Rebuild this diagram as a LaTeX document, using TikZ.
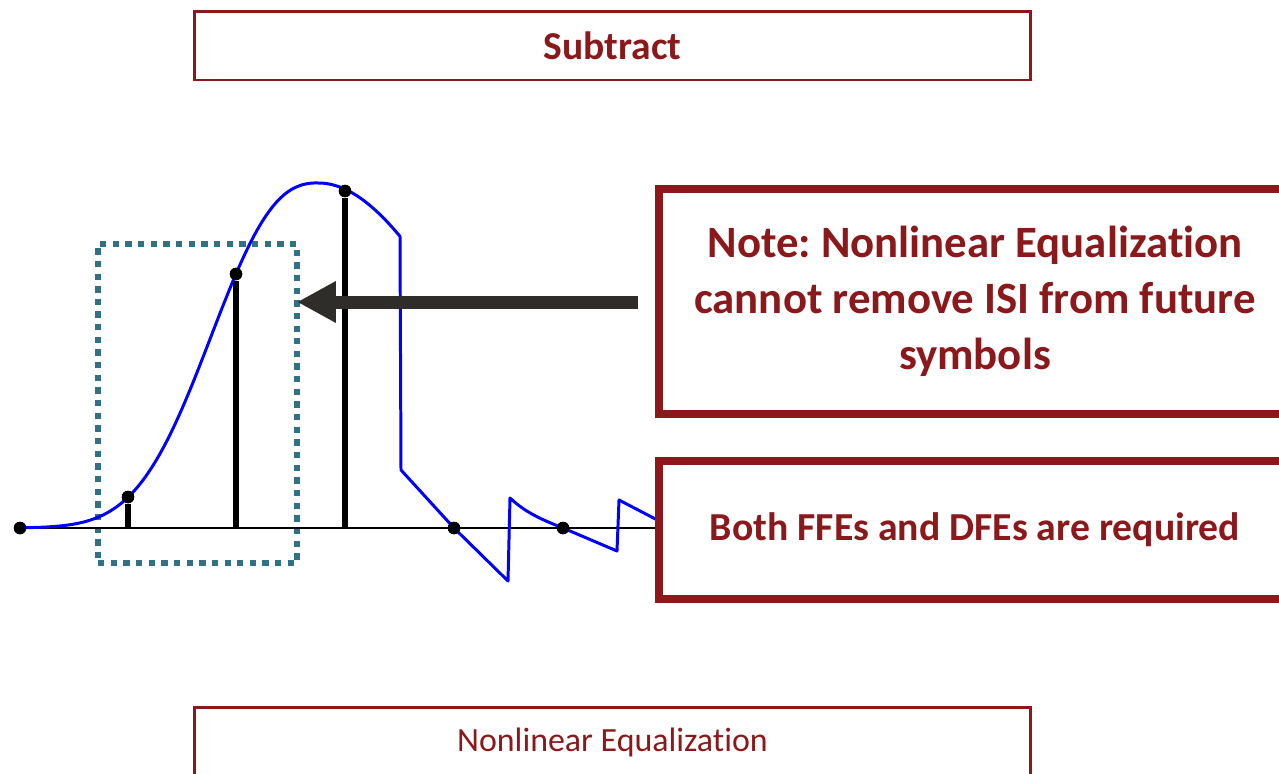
\documentclass[tikz,border=0pt]{standalone}
\usepackage{fontspec}
\setmainfont{Carlito}[Ligatures=NoCommon]
\usepackage{tikz}
\usetikzlibrary{arrows.meta}
\definecolor{boxred}{RGB}{139,24,26}
\definecolor{tealdot}{RGB}{49,112,133}
\definecolor{arrowgray}{RGB}{46,45,41}
\frenchspacing

\begin{document}
\begin{tikzpicture}[x=0.02cm, y=0.02cm, yscale=-1,
  thinbox/.style={draw=boxred, line width=1.7pt, fill=white, text=boxred, minimum width=16.74cm, minimum height=1.38cm},
  notebox/.style={draw=boxred, line width=4.5pt, fill=white, text=boxred, minimum width=12.64cm, align=center, font=\bfseries\fontsize{25.5}{31.75}\selectfont},
  tapbox/.style={draw=tealdot, line width=3.3pt, dash pattern=on 3.6pt off 3.6pt, minimum width=3.98cm, minimum height=6.38cm, outer sep=0pt},
  sample/.style={circle, fill=black, inner sep=0pt, minimum size=0.25cm},
  stem/.style={black, line width=2.9pt},
  pulse/.style={blue, line width=1.7pt, line join=round},
  bigarrow/.style={arrowgray, line width=7.4pt, -{Triangle[length=0.78cm, width=0.78cm]}}]
\useasboundingbox (0,0) rectangle (1279,774);
\node[tapbox] (window) at (197.5,403.5) {};
\node[sample] (p0) at (20,528) {};
\node[sample] (p1) at (128,497) {};
\node[sample] (p2) at (236,274) {};
\node[sample] (p3) at (345,191) {};
\node[sample] (p4) at (454,528) {};
\node[sample] (p5) at (563,528) {};
\coordinate (axisend) at (659,528);
\draw[black, line width=1.1pt] (p0) -- (axisend);
\draw[pulse] plot[domain=20:318, samples=80] (\x, {528-345*exp(-((abs(\x-318)+0.001)/132.7)^2.46)})
  -- plot[domain=318:400, samples=20] (\x, {528-345*exp(-((\x-318)/200)^2)})
  -- (401,470) -- (454,528) -- (508,581) -- (510,498)
  .. controls (525,512) and (540,519) .. (563,528) -- (617,551) -- (619,500) -- (665,524);
\draw[stem] (p1 |- p0) -- (p1);
\draw[stem] (p2 |- p0) -- (p2);
\draw[stem] (p3 |- p0) -- (p3);
\node[sample] at (p0) {};
\node[sample] at (p1) {};
\node[sample] at (p2) {};
\node[sample] at (p3) {};
\node[sample] at (p4) {};
\node[sample] at (p5) {};
\coordinate (tail) at (638,302);
\draw[bigarrow] (tail) -- (tail -| window.east);
\node[thinbox, font=\bfseries\fontsize{22.5}{27}\selectfont] (sub) at (612.5,45.5) {Subtract};
\node[thinbox, font=\fontsize{19.3}{23}\selectfont] (neq) at (612.5,742) {Nonlinear Equalization};
\node[notebox, minimum height=4.5cm] (note) at (975,301.5) {Note: Nonlinear Equalization\\cannot remove ISI from future\\symbols};
\node[notebox, minimum height=2.76cm, font=\bfseries\fontsize{22.6}{28}\selectfont] (both) at (975,530) {Both FFEs and DFEs are required};
\end{tikzpicture}
\end{document}
